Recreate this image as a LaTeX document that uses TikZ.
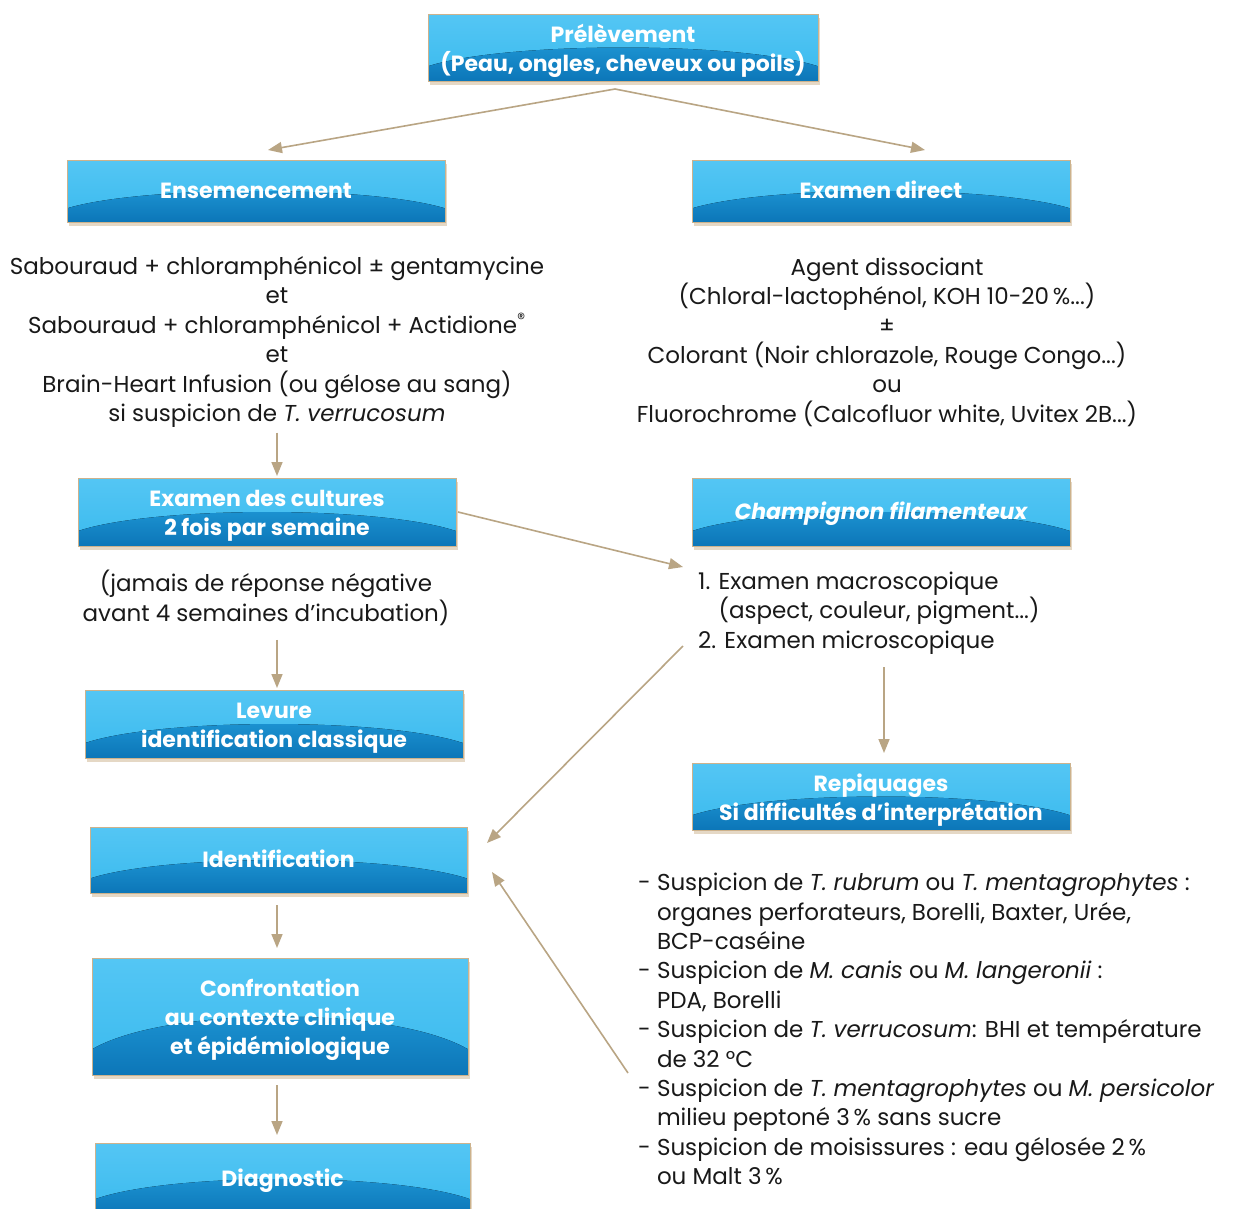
\documentclass[tikz,border=0pt]{standalone}
\usepackage{fontspec}
\setmainfont{Poppins}
\usetikzlibrary{calc,shadows,arrows.meta}
\definecolor{boxlight}{RGB}{58,186,238}
\definecolor{boxlight2}{RGB}{84,198,244}
\definecolor{boxdark}{RGB}{30,150,212}
\definecolor{boxdark2}{RGB}{12,118,184}
\definecolor{shadowtan}{RGB}{205,178,140}
\definecolor{arrowtan}{RGB}{185,165,132}
\newcommand{\bodyfnt}{\fontsize{23}{29.4}\selectfont}
\newcommand{\boxfnt}{\fontsize{22}{29.2}\selectfont\bfseries}
\newcommand{\boxstrut}{\rule[-7.5pt]{0pt}{29.5pt}}
\newcommand{\firststrut}{\rule{0pt}{26pt}}
\tikzset{
  bbox/.style={rectangle, inner sep=0pt, outer sep=0pt, text=white, font=\boxfnt, align=center,
    execute at begin node=\boxstrut, execute at end node=\boxstrut,
    top color=boxlight2, bottom color=boxlight, draw=shadowtan, line width=0.8pt,
    drop shadow={shadow xshift=2pt, shadow yshift=-4pt, fill=shadowtan, opacity=0.5},
    path picture={
      \path (path picture bounding box.south west) coordinate (pp1)
            (path picture bounding box.north east) coordinate (pp2);
      \fill[top color=boxdark, bottom color=boxdark2]
        let \p1=(pp1), \p2=(pp2), \n1={\y2-\y1}, \n2={\x2-\x1} in
        (\x1,\y1) -- (\x1,{\y1+0.22*\n1}) .. controls ({\x1+0.2*\n2},{\y1+0.593*\n1}) and ({\x2-0.2*\n2},{\y1+0.593*\n1}) .. (\x2,{\y1+0.22*\n1}) -- (\x2,\y1) -- cycle;
    }},
  body/.style={font=\bodyfnt, inner sep=0pt, text=black!90},
  arr/.style={draw=arrowtan, line width=1.6pt, -{Triangle[length=14pt,width=11pt]}},
}
\begin{document}
\begin{tikzpicture}[x=1pt,y=-1pt]
\fill[white] (0,0) rectangle (1233,1208);
\useasboundingbox (0,0) rectangle (1233,1208);
\clip (0,0) rectangle (1233,1208);

% boxes
\node[bbox, minimum width=390, minimum height=67] (P) at (623,47.5) {\firststrut Prélèvement\\(Peau, ongles, cheveux ou poils)};
\node[bbox, minimum width=378, minimum height=62] (E) at (256,191) {Ensemencement};
\node[bbox, minimum width=378, minimum height=62] (D) at (881,191) {Examen direct};
\node[bbox, minimum width=378, minimum height=68] (C) at (267,512) {\firststrut Examen des cultures\\2 fois par semaine};
\node[bbox, minimum width=378, minimum height=68] (F) at (881,512) {\itshape Champignon filamenteux};
\node[bbox, minimum width=378, minimum height=68] (L) at (274,724) {\firststrut Levure\\identification classique};
\node[bbox, minimum width=378, minimum height=67] (R) at (881,796.5) {\firststrut Repiquages\\Si difficultés d'interprétation};
\node[bbox, minimum width=377, minimum height=66] (I) at (278.5,860) {Identification};
\node[bbox, minimum width=376, minimum height=117] (Co) at (280,1016.5) {\firststrut Confrontation\\au contexte clinique\\et épidémiologique};
\node[bbox, minimum width=375, minimum height=72] (Dg) at (282.5,1179) {Diagnostic};

% text blocks
\node[body, align=center] (lt) at (277,342) {Sabouraud + chloramphénicol ± gentamycine\\et\\Sabouraud + chloramphénicol + Actidione\textsuperscript{®}\\et\\Brain-Heart Infusion (ou gélose au sang)\\si suspicion de \textit{T. verrucosum}};
\node[body, align=center] (rt) at (887,342) {Agent dissociant\\(Chloral-lactophénol, KOH 10-20\,\%...)\\±\\Colorant (Noir chlorazole, Rouge Congo...)\\ou\\Fluorochrome (Calcofluor white, Uvitex 2B...)};
\node[body, align=center] (jt) at (266,598) {(jamais de réponse négative\\avant 4 semaines d'incubation)};
\node[body, align=left, anchor=west] (ml) at (698,613) {1. Examen macroscopique\\\hphantom{1. }(aspect, couleur, pigment...)\\2. Examen microscopique};
\node[body, align=left, anchor=west] (bl) at (638,1029) {- Suspicion de \textit{T. rubrum} ou \textit{T. mentagrophytes} :\\\hphantom{- }organes perforateurs, Borelli, Baxter, Urée,\\\hphantom{- }BCP-caséine\\- Suspicion de \textit{M. canis} ou \textit{M. langeronii} :\\\hphantom{- }PDA, Borelli\\- Suspicion de \textit{T. verrucosum}: BHI et température\\\hphantom{- }de 32 °C\\- Suspicion de \textit{T. mentagrophytes} ou \textit{M. persicolor}\\\hphantom{- }milieu peptoné 3\,\% sans sucre\\- Suspicion de moisissures : eau gélosée 2\,\%\\\hphantom{- }ou Malt 3\,\%};

% connectors
\draw[arr] ([shift={(-8,8)}]P.south) -- ([shift={(12,-10)}]E.north);
\draw[arr] ([shift={(-8,8)}]P.south) -- ([shift={(44,-10)}]D.north);
\draw[arr] ($(lt.south)+(0,5)$) -- ($(C.north)+(10,-2)$);
\draw[arr] ([xshift=2]C.east) -- ([shift={(-15,-46)}]ml.west);
\draw[arr] ($(ml.south -| R.north)+(3,13)$) -- ($(R.north)+(3,-10)$);
\draw[arr] ([shift={(-15,33)}]ml.west) -- ([shift={(20,-17)}]I.east);
\draw[arr] ([shift={(-10,44)}]bl.west) -- ([shift={(25,12)}]I.east);
\draw[arr] ($(jt.south)+(11,14)$) -- ($(L.north)+(3,-2)$);
\draw[arr] ($(I.south)+(-1.5,12)$) -- ($(Co.north)+(-3,-10)$);
\draw[arr] ($(Co.south)+(-3,10)$) -- ($(Dg.north)+(-5.5,-8)$);
\end{tikzpicture}
\end{document}
